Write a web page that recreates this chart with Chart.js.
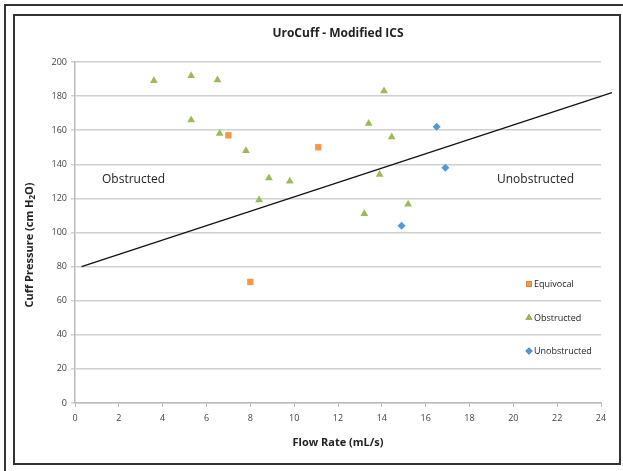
<!DOCTYPE html>
<html>
<head>
<meta charset="utf-8">
<script src="https://cdn.jsdelivr.net/npm/chart.js@4"></script>
<style>
  body { margin: 0; background: #fff; }
  #wrap { width: 623px; height: 471px; position: relative; }
</style>
</head>
<body>
<div id="wrap"><canvas id="mycanvas" width="623" height="471"></canvas></div>
<script>
// values
var equivocalX = [7.0, 11.1, 8.0];
var equivocalY = [157, 150, 71];

var obstructedX = [3.6, 5.3, 6.5, 5.3, 6.6, 7.8, 8.85, 8.4, 9.8, 14.1, 13.4, 14.45, 13.9, 15.2, 13.2];
var obstructedY = [189, 192, 189.5, 166, 158, 148, 132, 119, 130, 183, 164, 156, 134, 116.5, 111];

var unobstructedX = [16.5, 16.9, 14.9];
var unobstructedY = [162, 138, 104];

var dividerX = [0.3, 24.5];
var dividerY = [80, 182];

var xTicks = [0, 2, 4, 6, 8, 10, 12, 14, 16, 18, 20, 22, 24];
var yTicks = [0, 20, 40, 60, 80, 100, 120, 140, 160, 180, 200];

function pts(xs, ys) {
  var out = [];
  for (var i in xs) out.push({x: xs[i], y: ys[i]});
  return out;
}

var narrow = '"Liberation Sans Narrow", "Open Sans", sans-serif';
var bodyFont = '"Open Sans", "Liberation Sans", sans-serif';

var decor = {
  id: 'decor',
  beforeDraw: function(chart) {
    var c = chart.ctx;
    c.save();
    c.fillStyle = '#fff';
    c.fillRect(0, 0, chart.width, chart.height);
    c.strokeStyle = '#333';
    c.lineWidth = 2;
    c.strokeRect(5, 5, 640, 490);
    c.strokeRect(14, 15, 606, 449);
    c.restore();
  },
  afterDraw: function(chart) {
    var c = chart.ctx;
    var area = chart.chartArea;
    c.save();
    c.fillStyle = '#222';
    c.textBaseline = 'middle';
    c.textAlign = 'center';
    c.font = 'bold 12px ' + narrow;
    c.fillText('UroCuff - Modified ICS', 338, 34);

    c.font = 'bold 11px ' + bodyFont;
    c.fillText('Flow Rate (mL/s)', 338, 443);

    // y axis title with subscript
    c.translate(30, 245);
    c.rotate(-Math.PI / 2);
    var a = 'Cuff Pressure (cm H', b = '2', d = 'O)';
    c.font = 'bold 11px ' + bodyFont;
    var wa = c.measureText(a).width, wd = c.measureText(d).width;
    c.font = 'bold 8px ' + bodyFont;
    var wb = c.measureText(b).width;
    var x0 = -(wa + wb + wd) / 2;
    c.textAlign = 'left';
    c.font = 'bold 11px ' + bodyFont;
    c.fillText(a, x0, 0);
    c.font = 'bold 8px ' + bodyFont;
    c.fillText(b, x0 + wa, 3);
    c.font = 'bold 11px ' + bodyFont;
    c.fillText(d, x0 + wa + wb, 0);
    c.setTransform(1, 0, 0, 1, 0, 0);
    c.restore();

    c.save();
    c.fillStyle = '#222';
    c.textBaseline = 'middle';
    c.font = '12px ' + narrow;
    c.fillText('Obstructed', 102, 180);
    c.fillText('Unobstructed', 497, 180);

    // legend
    c.font = '9px ' + narrow;
    var rows = [0, 1, 2];
    var ly = [284, 318, 351];
    for (var i in rows) {
      var ds = chart.data.datasets[rows[i]];
      Chart.helpers.drawPoint(c, {pointStyle: ds.pointStyle, radius: ds.pointRadius - 0.5, borderWidth: 0}, 529, ly[i]);
      c.fillStyle = ds.backgroundColor;
      c.beginPath();
      Chart.helpers.drawPoint(c, {pointStyle: ds.pointStyle, radius: ds.pointRadius - 0.5, borderWidth: 0}, 529, ly[i]);
      c.fillStyle = '#222';
      c.fillText(ds.label, 534, ly[i]);
    }
    c.restore();
  }
};

var ctx = document.getElementById('mycanvas');
var chart = new Chart(ctx, {
  type: 'scatter',
  data: {
    datasets: [
      { label: 'Equivocal', data: pts(equivocalX, equivocalY), pointStyle: 'rect',
        backgroundColor: '#f79646', borderColor: '#f79646', pointRadius: 4.5, borderWidth: 0 },
      { label: 'Obstructed', data: pts(obstructedX, obstructedY), pointStyle: 'triangle',
        backgroundColor: '#9bbb59', borderColor: '#9bbb59', pointRadius: 4.5, borderWidth: 0 },
      { label: 'Unobstructed', data: pts(unobstructedX, unobstructedY), pointStyle: 'rectRot',
        backgroundColor: '#4f9ad8', borderColor: '#4f9ad8', pointRadius: 4, borderWidth: 0 },
      { label: 'divider', data: pts(dividerX, dividerY), showLine: true, pointRadius: 0,
        borderColor: '#111', borderWidth: 1.2, clip: false }
    ]
  },
  options: {
    responsive: false,
    animation: false,
    layout: { padding: { left: 0, top: 62, right: 22, bottom: 0 } },
    plugins: { legend: { display: false }, tooltip: { enabled: false } },
    scales: {
      x: {
        type: 'linear', min: 0, max: 24,
        afterBuildTicks: function(s) { s.ticks = xTicks.map(function(v) { return {value: v}; }); },
        afterFit: function(s) { s.height = 68; },
        grid: { drawOnChartArea: false, drawTicks: true, tickLength: 4, color: '#bbb' },
        border: { color: '#bbb', width: 1.5 },
        ticks: { color: '#444', font: { family: narrow, size: 9 }, padding: 6, maxRotation: 0 }
      },
      y: {
        type: 'linear', min: 0, max: 200,
        afterBuildTicks: function(s) { s.ticks = yTicks.map(function(v) { return {value: v}; }); },
        afterFit: function(s) { s.width = 75; },
        grid: { color: '#cfcfcf', lineWidth: 1.5, tickLength: 4 },
        border: { color: '#bbb', width: 1.5 },
        ticks: { color: '#444', font: { family: narrow, size: 9 }, padding: 4 }
      }
    }
  },
  plugins: [decor]
});
</script>
</body>
</html>
